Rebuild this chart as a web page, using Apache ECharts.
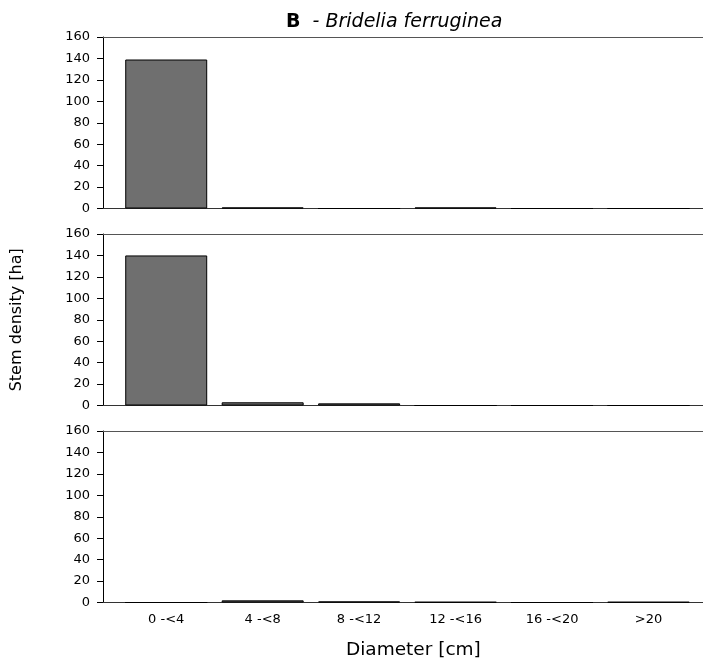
<!DOCTYPE html>
<html>
<head>
<meta charset="utf-8">
<script src="https://cdn.jsdelivr.net/npm/echarts@6/dist/echarts.min.js"></script>
<style>html,body{margin:0;padding:0;background:#fff;}#c{width:703px;height:670px;}</style>
</head>
<body>
<div id="c"></div>
<script>
var categories = ['0 -<4', '4 -<8', '8 -<12', '12 -<16', '16 -<20', '>20'];
var panel1 = [139, 1, 0, 1, 0, 0];
var panel2 = [140, 3, 2, 0, 0, 0];
var panel3 = [0, 2, 1, 0.5, 0, 0.5];
var yMin = 0, yMax = 160, yStep = 20;
var panels = [panel1, panel2, panel3];

var FONT = 'DejaVu Sans';
var tops = [37, 234, 431];
var H = 171.5;

var grids = [], xAxes = [], yAxes = [], series = [];
panels.forEach(function (vals, i) {
  grids.push({left: 103, right: 0, top: tops[i], height: H, containLabel: false});
  grids.push({left: 118, right: 6.3, top: tops[i], height: H, containLabel: false});
  var fg = i * 2, bg = i * 2 + 1;
  xAxes.push({gridIndex: fg, type: 'value', min: 0, max: 1, position: 'bottom',
    axisLine: {show: true, lineStyle: {color: '#333', width: 1}},
    axisTick: {show: false}, axisLabel: {show: false}, splitLine: {show: false}});
  xAxes.push({gridIndex: fg, type: 'value', min: 0, max: 1, position: 'top',
    axisLine: {show: true, lineStyle: {color: '#555', width: 1}},
    axisTick: {show: false}, axisLabel: {show: false}, splitLine: {show: false}});
  var xb = {gridIndex: bg, type: 'category', data: categories, boundaryGap: true,
    axisLine: {show: false}, axisTick: {show: false},
    axisLabel: {show: i === 2, interval: 0, margin: 11, color: '#000', fontFamily: FONT, fontSize: 13},
    splitLine: {show: false}};
  if (i === 2) {
    xb.name = 'Diameter [cm]';
    xb.nameLocation = 'middle';
    xb.nameGap = 38;
    xb.nameTextStyle = {color: '#000', fontFamily: FONT, fontSize: 18.5, padding: [0, 0, 0, 12]};
  }
  xAxes.push(xb);
  var yf = {gridIndex: fg, type: 'value', min: yMin, max: yMax, interval: yStep,
    axisLine: {show: true, lineStyle: {color: '#000', width: 1}},
    axisTick: {show: true, inside: false, length: 6, lineStyle: {color: '#000'}},
    axisLabel: {color: '#000', fontFamily: FONT, fontSize: 13, margin: 13},
    splitLine: {show: false}};
  if (i === 1) {
    yf.name = 'Stem density [ha]';
    yf.nameLocation = 'middle';
    yf.nameGap = 78;
    yf.nameTextStyle = {color: '#000', fontFamily: FONT, fontSize: 16};
  }
  yAxes.push(yf);
  yAxes.push({gridIndex: bg, type: 'value', min: yMin, max: yMax, interval: yStep, show: false});
  series.push({type: 'bar', xAxisIndex: i * 3 + 2, yAxisIndex: i * 2 + 1, data: vals,
    barCategoryGap: '15%',
    itemStyle: {color: '#6f6f6f', borderColor: '#000', borderWidth: 1},
    silent: true, animation: false});
});

var chart = echarts.init(document.getElementById('c'), null, {renderer: 'canvas'});
chart.setOption({
  animation: false,
  backgroundColor: '#fff',
  title: {
    text: '{b|B}{i|  - Bridelia ferruginea}',
    left: 281, top: 7,
    textStyle: {
      fontWeight: 'normal',
      rich: {
        b: {fontFamily: FONT, fontWeight: 'bold', fontSize: 19, color: '#000', lineHeight: 20},
        i: {fontFamily: FONT, fontStyle: 'italic', fontWeight: 'normal', fontSize: 19, color: '#000', lineHeight: 20}
      }
    }
  },
  grid: grids,
  xAxis: xAxes,
  yAxis: yAxes,
  series: series
});
</script>
</body>
</html>
